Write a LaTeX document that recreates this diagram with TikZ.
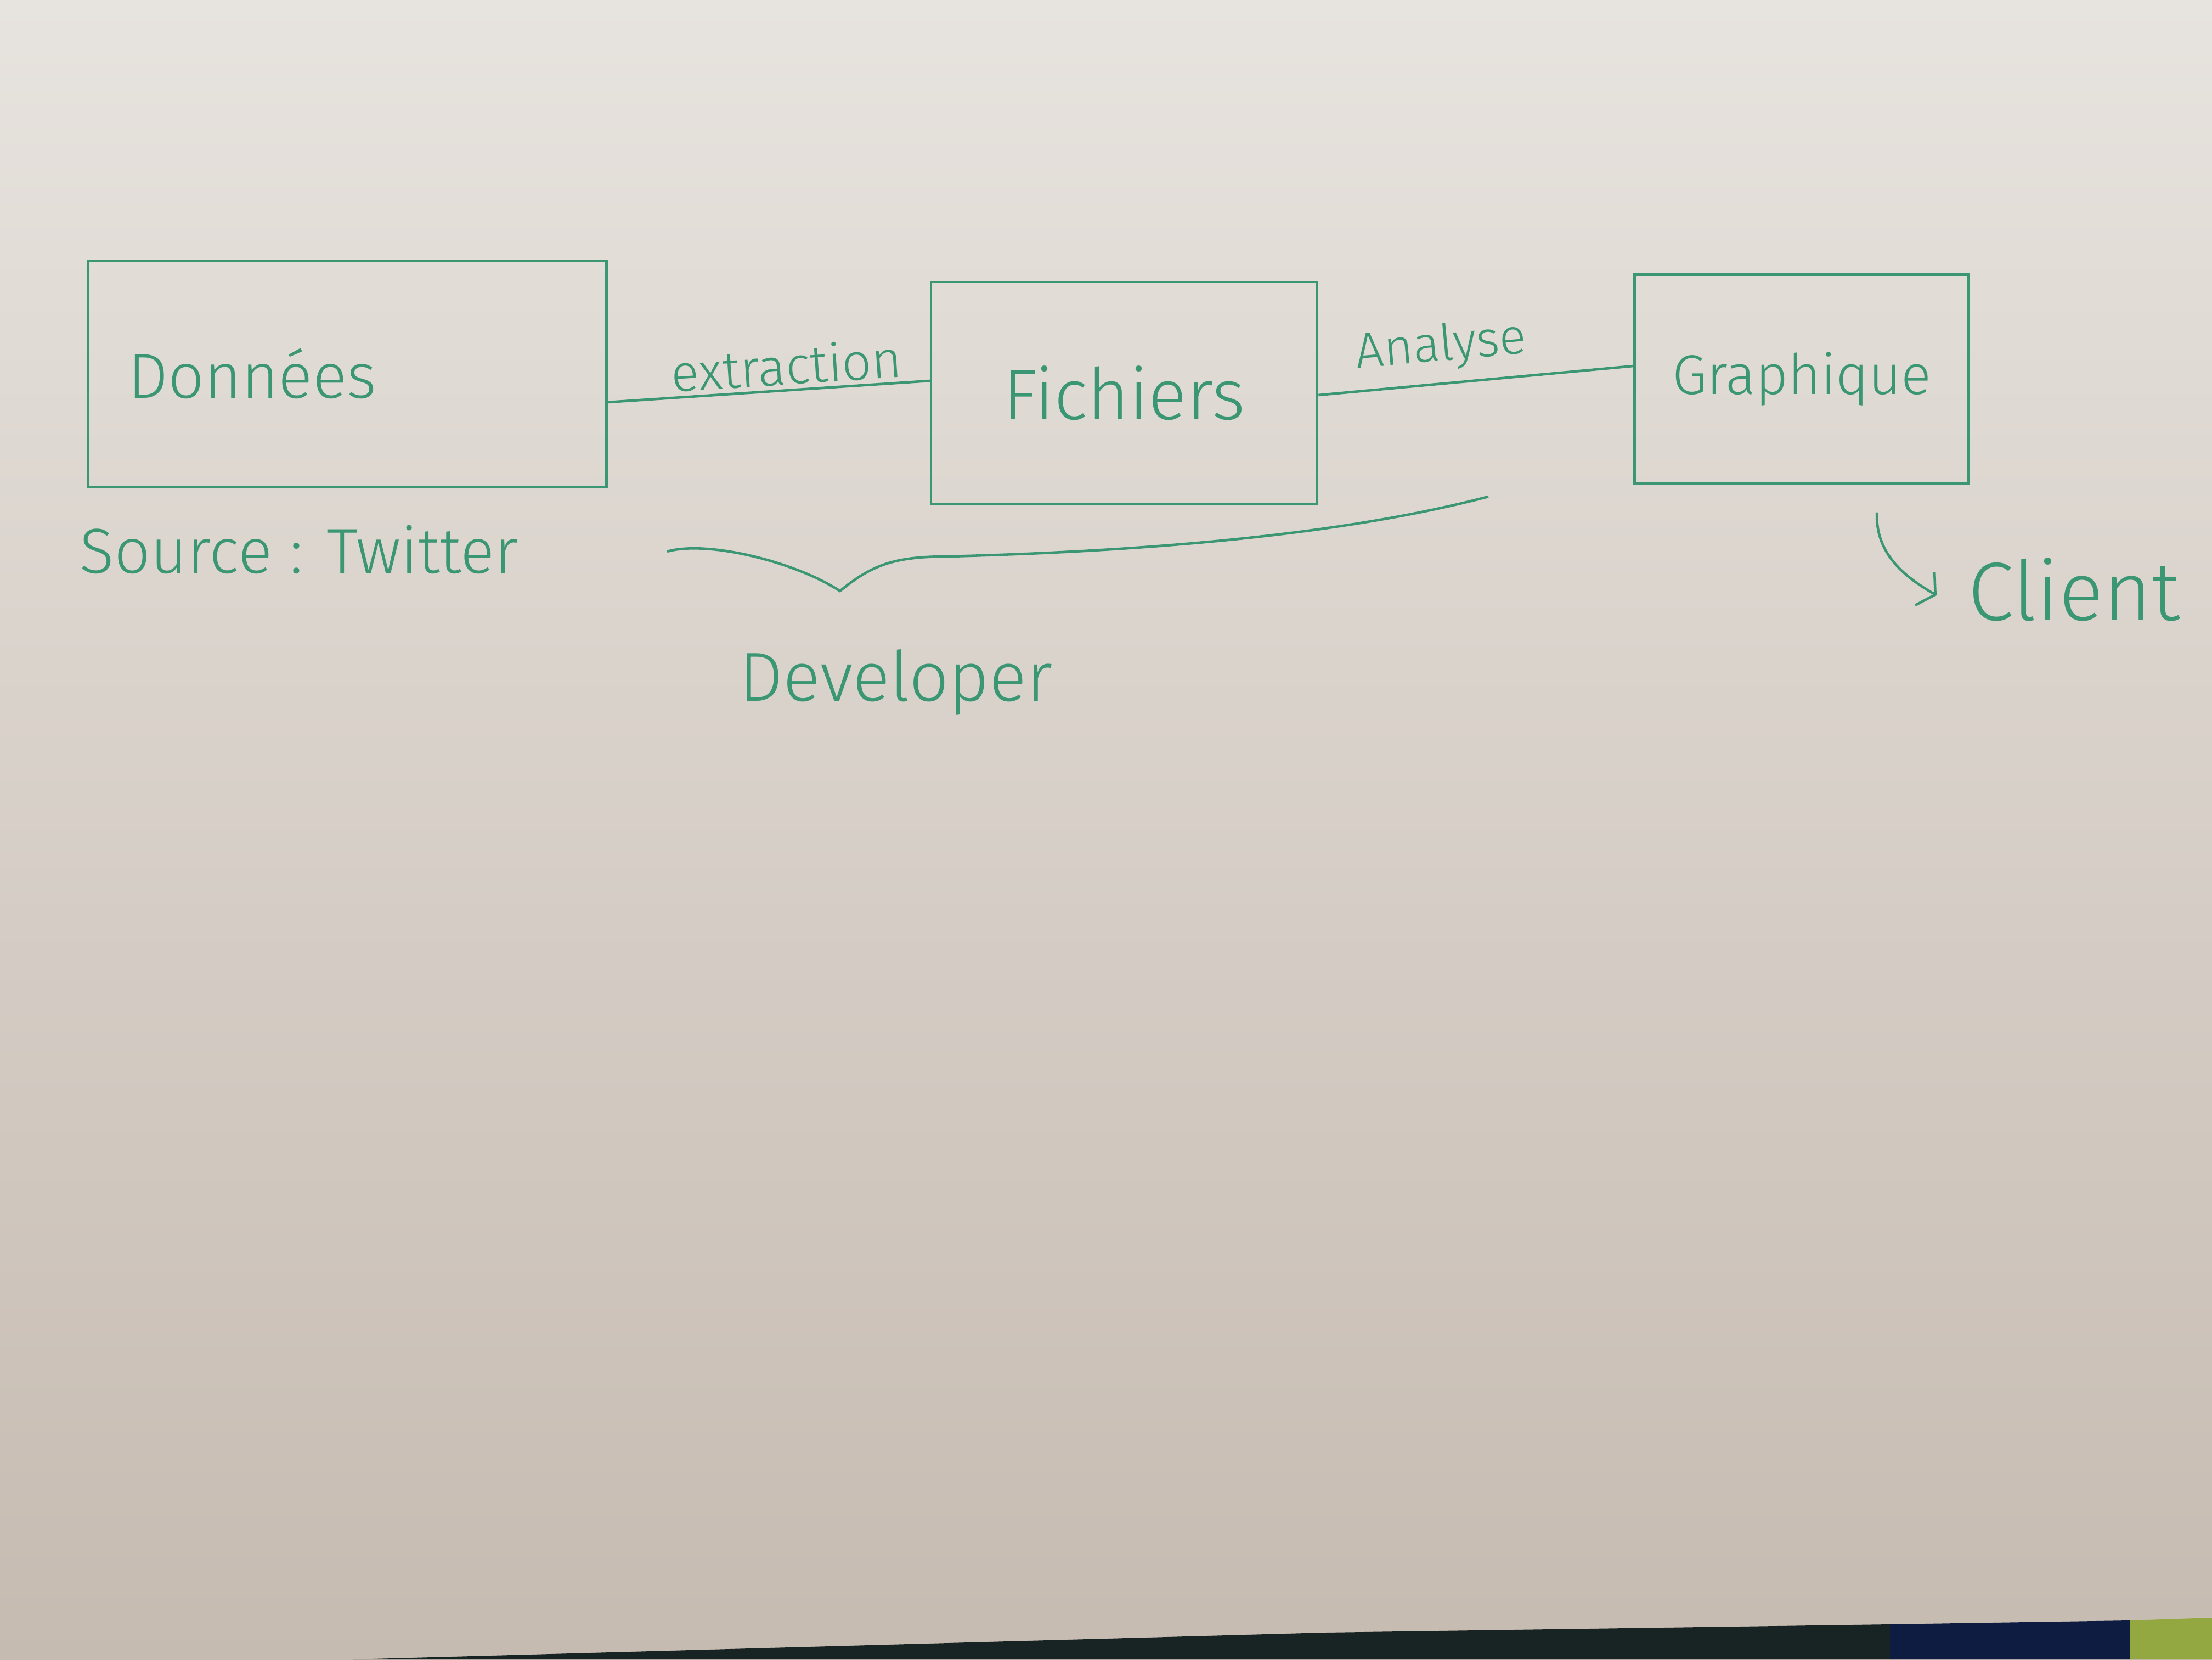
\documentclass[tikz,border=0pt]{standalone}
\usepackage{fontspec}
\setmainfont{Fira Sans Light}
\usetikzlibrary{arrows, arrows.meta, positioning}
\definecolor{feutre}{RGB}{58,150,115}
\definecolor{tableauhaut}{RGB}{231,227,222}
\definecolor{tableaubas}{RGB}{198,187,177}
\definecolor{fondsombre}{RGB}{24,36,36}
\definecolor{fondbleu}{RGB}{14,28,66}
\definecolor{fondvert}{RGB}{148,168,66}
\tikzstyle{boite} = [draw=feutre, line width=1.3pt, rectangle, inner sep=0pt, text=feutre]
\tikzstyle{etiquette} = [text=feutre, inner sep=2pt]
\tikzstyle{trait} = [draw=feutre, line width=1.3pt]

\begin{document}
\begin{tikzpicture}
	\shade[top color=tableauhaut, bottom color=tableaubas] (0,0) rectangle (40.32,30.24);
	\fill[fondsombre] (6.43,0) -- (24.17,0.49) -- (34.45,0.64) -- (34.45,0) -- cycle;
	\fill[fondbleu] (34.45,0) -- (34.45,0.64) -- (38.82,0.71) -- (38.82,0) -- cycle;
	\fill[fondvert] (38.82,0) -- (38.82,0.71) -- (40.32,0.76) -- (40.32,0) -- cycle;
	\useasboundingbox (0,0) rectangle (40.32,30.24);
	\node [boite, minimum width=9.45cm, minimum height=4.12cm, text width=8cm, align=left] (donnees) at (6.33,23.43) {\fontsize{33}{40}\selectfont Données};
	\node [boite, minimum width=7.04cm, minimum height=4.04cm, right=5.87cm of donnees, yshift=-0.35cm] (fichiers) {\fontsize{37}{42}\selectfont Fichiers\hspace{0.6cm}};
	\node [boite, minimum width=6.09cm, minimum height=3.81cm, right=5.74cm of fichiers, yshift=0.25cm] (graphique) {\fontsize{29}{34}\selectfont Graphique};
	\draw [trait] ([yshift=-0.52cm]donnees.east) -- ([yshift=0.22cm]fichiers.west) node [etiquette, pos=0.56, above, sloped] {\fontsize{27}{32}\selectfont extraction};
	\draw [trait] ([yshift=-0.04cm]fichiers.east) -- ([yshift=0.24cm]graphique.west) node [etiquette, pos=0.4, above=4pt, sloped] {\fontsize{26}{31}\selectfont Analyse};
	\node [etiquette, anchor=north west] (source) at ([xshift=-0.2cm, yshift=-0.6cm]donnees.south west) {\fontsize{33}{40}\selectfont Source : Twitter};
	\coordinate (accdebut) at (12.16,20.19);
	\coordinate (accpointe) at (15.31,19.47);
	\coordinate (accfin) at (27.13,21.19);
	\draw [trait] (accdebut) .. controls (12.9,20.4) and (14.5,20.0) .. (accpointe) .. controls (15.9,19.95) and (16.3,20.1) .. (17.3,20.1) .. controls (21,20.2) and (24.5,20.5) .. (accfin);
	\node [etiquette, anchor=base] (developer) at (16.33,17.46) {\fontsize{36}{42}\selectfont Developer};
	\node [etiquette, anchor=base west] (client) at (35.8,18.93) {\fontsize{43}{52}\selectfont Client};
	\draw [trait, -{Straight Barb[length=0.22cm, width=0.7cm]}] ([xshift=1.37cm, yshift=-0.5cm]graphique.south) to [out=-92, in=150] ([xshift=-0.5cm, yshift=-0.1cm]client.west);
\end{tikzpicture}
\end{document}
